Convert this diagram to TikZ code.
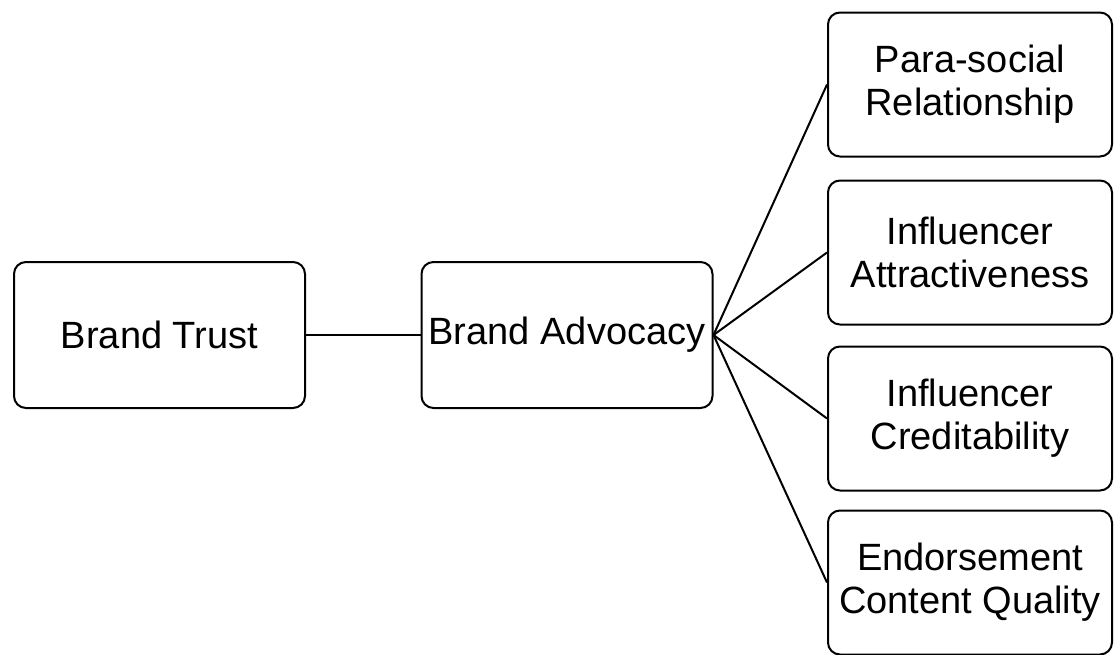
\documentclass[tikz,border=0pt]{standalone}
\usepackage{fontspec}
\setmainfont{Liberation Sans}
\usetikzlibrary{positioning}

\begin{document}
\begin{tikzpicture}[x=0.5pt, y=-0.5pt,
    every node/.style={draw, rounded corners=6pt, line width=1pt, align=center,
        font=\fontsize{19}{21.5}\selectfont, inner sep=2pt},
    leftbox/.style={minimum width=145.5pt, minimum height=73pt},
    rightbox/.style={minimum width=142pt, minimum height=72pt}]
                \useasboundingbox (0,0) rectangle (1114,654);
                \node[leftbox] (trust) at (159.5,335) {Brand Trust};
                \node[leftbox] (advocacy) at (567,335) {Brand Advocacy};
                \node[rightbox] (para) at (970,84.5) {Para-social\\Relationship};
                \node[rightbox] (attract) at (970,252.5) {Influencer\\Attractiveness};
                \node[rightbox] (cred) at (970,418.5) {Influencer\\Creditability};
                \node[rightbox] (quality) at (970,582.5) {Endorsement\\Content Quality};
                \draw[line width=1pt] (trust) -- (advocacy);
                \foreach \n in {para, attract, cred, quality}
                    \draw[line width=1pt] (advocacy.east) -- (\n.west);
            \end{tikzpicture}
\end{document}
